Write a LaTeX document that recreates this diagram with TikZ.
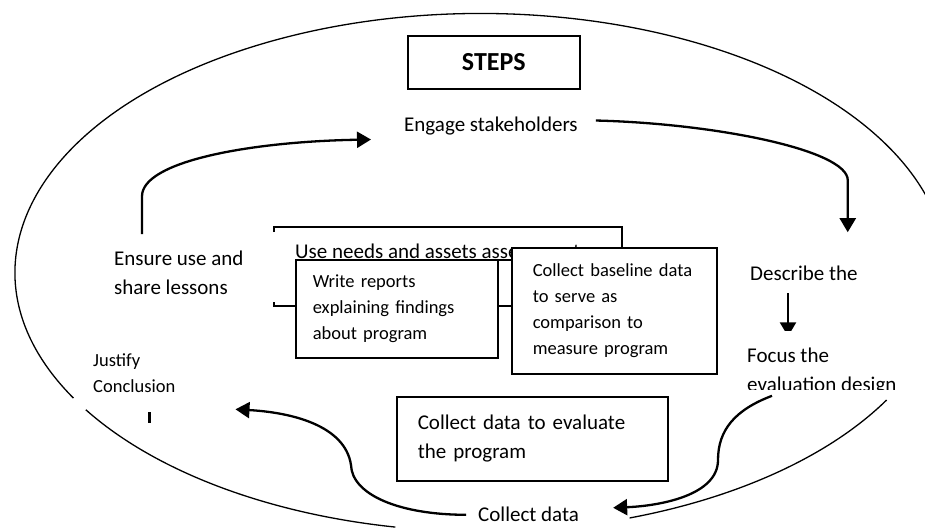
\documentclass[tikz,border=0pt]{standalone}
\usepackage{fontspec}
\setmainfont{Carlito}
\usetikzlibrary{arrows.meta,calc}

\begin{document}
\begin{tikzpicture}[x=1pt, y=-1pt, >={Triangle[length=14pt,width=16pt]}]
\tikzstyle{every node}=[inner sep=0pt, align=left]
\tikzstyle{big}=[font=\fontsize{21}{29}\selectfont]
\tikzstyle{small}=[font=\fontsize{18.5}{26}\selectfont]
\tikzstyle{frame}=[draw, line width=1.6pt, fill=white, anchor=north west]
\tikzstyle{flow}=[->, line width=2.3pt]
\tikzstyle{rim}=[line width=1.3pt]

\useasboundingbox (0,0) rectangle (925,529);
\clip (0,0) rectangle (925,529);

% outer oval, broken where the labels sit on it
\draw[rim] (481,272.5) ++(29.5:466 and 259) arc[start angle=29.5, end angle=71.4, x radius=466, y radius=259]
  (481,272.5) ++(100.6:466 and 259) arc[start angle=100.6, end angle=148, x radius=466, y radius=259]
  (481,272.5) ++(151:466 and 259) arc[start angle=151, end angle=375, x radius=466, y radius=259];

\node[frame, minimum width=172, minimum height=53, align=center,
      font=\bfseries\fontsize{26}{30}\selectfont] (steps) at (407,35) {STEPS};

% base anchor of a two-line node sits on its last line
\node[big, anchor=base west] (engage)   at (404,132) {Engage stakeholders};
\node[big, anchor=base west] (ensure)   at (114,294) {Ensure use and\\share lessons};
\node[big, anchor=base west] (describe) at (750,280) {Describe the};
\begin{scope}
\clip (700,330) rectangle (925,389);
\node[big, anchor=base west] (focus) at (747,391) {Focus the\\evaluation design};
\end{scope}
\node[small, anchor=base west] (justify) at (93,392) {Justify\\Conclusion};
\node[big, anchor=base west] (collect)  at (478,521) {Collect data};

% needs assessment frame, mostly hidden by the two boxes
\draw[line width=1.6pt] (274,232) -- (274,227) -- (622,227) -- (622,306) -- (274,306) -- (274,302);
\node[big, anchor=base west] (needs) at (295,258) {Use needs and assets assessment};
\draw[line width=1.3pt] ($(needs.base west)+(0,2)$) -- ($(needs.base east)+(0,2)$);

\node[frame, small, minimum width=202, minimum height=98, text width=168] (reports) at (295,259)
  {Write reports\\explaining findings\\about program};
\node[frame, small, minimum width=205, minimum height=126, text width=163] (baseline) at (511,247)
  {Collect baseline data\\to serve as\\comparison to\\measure program};
\node[frame, big, minimum width=271, minimum height=84, text width=229] (evaluate) at (396,396)
  {Collect data to evaluate\\the program};

% the cycle
\draw[flow] ($(engage.east)+(18,-6)$) .. controls +(120,3) and +(0,-30) .. ($(describe.north east)+(-10,-85)$)
  -- ($(describe.north east)+(-10,-33)$);
\begin{scope}
\clip (760,285) rectangle (820,330);
\draw[flow] ($(describe.south west)+(38,13)$) -- ($(describe.south west)+(38,56)$);
\end{scope}
\draw[flow] ($(focus.south west)+(25,1)$) .. controls +(-37,14) and +(0,-30) .. (718,460)
  .. controls +(0,35) and +(48,-2) .. ($(collect.east)+(34,-6)$);
\draw[flow] ($(collect.west)+(-12,1)$) .. controls +(-66,0) and +(1,30) .. (351,465)
  .. controls +(-6,-40) and +(55,3) .. ($(justify.south east)+(60,17)$);
\draw[flow] ($(ensure.north west)+(28,-16)$) -- ++(0,-38) .. controls +(0,-35) and +(-120,2)
  .. ($(engage.west)+(-33,13)$);
\draw[line width=3pt] ($(justify.south west)+(56,20)$) -- +(0,11);
\end{tikzpicture}
\end{document}
